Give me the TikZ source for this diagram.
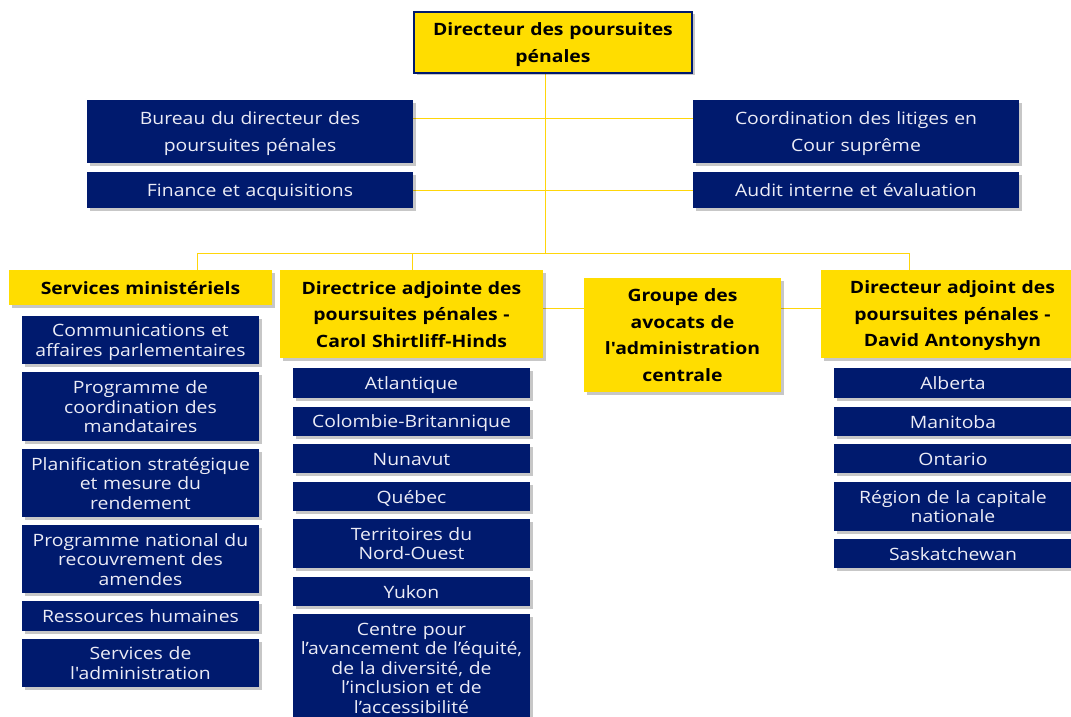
\documentclass[tikz,border=0pt]{standalone}
\usepackage{fontspec}
\setmainfont{Open Sans}[FakeStretch=1.14,Ligatures=TeXOff]
\usetikzlibrary{shadows}
\definecolor{navy}{RGB}{0,26,110}
\definecolor{gold}{RGB}{255,221,0}
\definecolor{linegold}{RGB}{255,214,10}
\definecolor{txtw}{RGB}{236,236,246}
\pgfdeclarelayer{bg}
\pgfsetlayers{bg,main}
\begin{document}
\begin{tikzpicture}[x=1pt,y=-1pt,
  shad/.style={drop shadow={shadow xshift=2.5pt,shadow yshift=-2.5pt,opacity=0.22,fill=black}},
  sz/.style 2 args={minimum width=#1pt,text width=#1pt,minimum height=#2pt},
  txtbox/.style={align=center,inner sep=0pt,
    execute at begin node={\rule{0pt}{17pt}},
    execute at end node={\rule[-4pt]{0pt}{4pt}}},
  bbox/.style={shad,txtbox,fill=navy,text=txtw,font=\fontsize{17}{19.5}\selectfont},
  bboxw/.style={bbox,font=\fontsize{17}{27}\selectfont},
  ybox/.style={shad,txtbox,fill=gold,text=black,font=\bfseries\fontsize{17}{26.5}\selectfont},
  conn/.style={draw=linegold,line width=1pt}]
\useasboundingbox (0,0) rectangle (1071,717);
\clip (0,0) rectangle (1071,717);

% top
\node[ybox,draw=navy,line width=1.5pt,sz={278}{61}] (top) at (553,42.5) {Directeur des poursuites\\pénales};

% upper staff boxes
\node[bboxw,sz={326}{63}] (bureau) at (250,131.5) {Bureau du directeur des\\poursuites pénales};
\node[bboxw,sz={326}{36}] (finance) at (250,190) {Finance et acquisitions};
\node[bboxw,sz={326}{63}] (coord) at (856,131.5) {Coordination des litiges en\\Cour suprême};
\node[bboxw,sz={326}{36}] (audit) at (856,190) {Audit interne et évaluation};

% second level
\node[ybox,sz={263}{35}] (serv) at (140.5,287.5) {Services ministériels};
\node[ybox,sz={263}{88}] (dirc) at (411.5,314) {Directrice adjointe des\\poursuites pénales -\\Carol Shirtliff-Hinds};
\node[ybox,sz={197}{114}] (groupe) at (682.5,335) {Groupe des\\avocats de\\l'administration\\centrale};
\node[ybox,sz={263}{88}] (diradj) at (952.5,314) {Directeur adjoint des\\poursuites pénales -\\David Antonyshyn};

% left column
\node[bbox,sz={237}{48}] (comm) at (140.5,340) {Communications et\\affaires parlementaires};
\node[bbox,sz={237}{69}] (pcm) at (140.5,406.5) {Programme de\\coordination des\\mandataires};
\node[bbox,sz={237}{68}] (plan) at (140.5,483) {Planification stratégique\\et mesure du\\rendement};
\node[bbox,sz={237}{68}] (pnr) at (140.5,559) {Programme national du\\recouvrement des\\amendes};
\node[bbox,sz={237}{30}] (rh) at (140.5,616) {Ressources humaines};
\node[bbox,sz={237}{48}] (sadm) at (140.5,663) {Services de\\l'administration};

% middle column
\node[bbox,sz={237}{30}] (atl) at (411.5,383) {Atlantique};
\node[bbox,sz={237}{29}] (cb) at (411.5,421.5) {Colombie-Britannique};
\node[bbox,sz={237}{29}] (nun) at (411.5,458.5) {Nunavut};
\node[bbox,sz={237}{29}] (qc) at (411.5,496.5) {Québec};
\node[bbox,sz={237}{49}] (tno) at (411.5,543.5) {Territoires du\\Nord-Ouest};
\node[bbox,sz={237}{29}] (yk) at (411.5,591.5) {Yukon};
\node[bbox,sz={237}{107}] (centre) at (411.5,667.5) {Centre pour\\l’avancement de l’équité,\\de la diversité, de\\l’inclusion et de\\l’accessibilité};

% right column
\node[bbox,sz={238}{30}] (ab) at (953,383) {Alberta};
\node[bbox,sz={238}{29}] (mb) at (953,421.5) {Manitoba};
\node[bbox,sz={238}{29}] (on) at (953,458.5) {Ontario};
\node[bbox,sz={238}{49}] (rcn) at (953,506.5) {Région de la capitale\\nationale};
\node[bbox,sz={238}{29}] (sk) at (953,553.5) {Saskatchewan};

% connectors
\coordinate (bus) at (545,253);
\coordinate (jb) at (545,118);
\coordinate (jf) at (545,190);
\coordinate (busL) at (197,253);
\coordinate (busM) at (412,253);
\coordinate (busR) at (909,253);
\coordinate (jg) at (682,308);
\begin{pgfonlayer}{bg}
\draw[conn] (top.south -| bus) -- (bus);
\draw[conn] (bureau.east |- jb) -- (coord.west |- jb);
\draw[conn] (finance.east |- jf) -- (audit.west |- jf);
\draw[conn] (serv.north -| busL) -- (busL) -- (busR) -- (diradj.north -| busR);
\draw[conn] (busM) -- (dirc.north -| busM);
\draw[conn] (dirc.east |- jg) -- (diradj.west |- jg);
\end{pgfonlayer}
\end{tikzpicture}
\end{document}
